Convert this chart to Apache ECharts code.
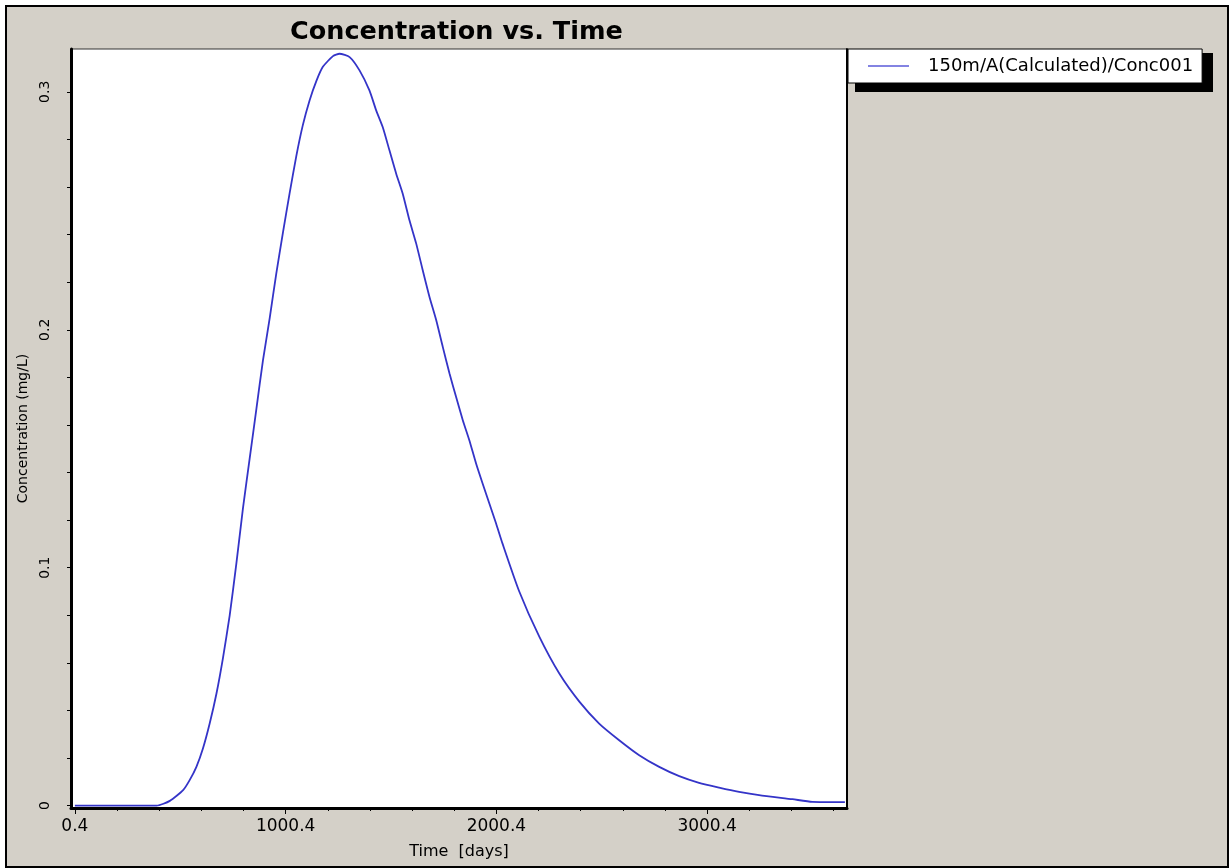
<!DOCTYPE html>
<html>
<head>
<meta charset="utf-8">
<script src="https://cdn.jsdelivr.net/npm/echarts@6/dist/echarts.min.js"></script>
<style>
  html, body { margin: 0; padding: 0; background: #ffffff; }
  #wrap { position: relative; width: 1231px; height: 868px; }
  #frame { position: absolute; left: 5px; top: 5px; width: 1220px; height: 859px;
           border: 2px solid #000; background: #D4D0C8; }
  #chart { position: absolute; left: 0; top: 0; width: 1231px; height: 868px; }
</style>
</head>
<body>
<div id="wrap"><div id="frame"></div><div id="chart"></div></div>
<script>
// Time in days
const timeDays = [0.4, 200, 389, 451, 514, 545, 577, 608, 640, 672, 703, 735, 767, 798, 830, 862,
  893, 925, 956, 988, 1019, 1051, 1082, 1114, 1146, 1177, 1225, 1256, 1304, 1351, 1398, 1430,
  1461, 1493, 1525, 1556, 1588, 1620, 1651, 1683, 1715, 1746, 1778, 1809, 1841, 1872, 1904,
  1935, 1967, 1999, 2030, 2109, 2204, 2299, 2394, 2488, 2583, 2678, 2773, 2868, 2962, 3057,
  3152, 3247, 3405, 3499, 3654];
// Concentration in mg/L
const concentration = [0, 0, 0, 0.0020, 0.0065, 0.0107, 0.0163, 0.0240, 0.0345, 0.0470, 0.0620,
  0.0800, 0.1020, 0.1250, 0.1460, 0.1670, 0.1872, 0.2050, 0.2236, 0.2410, 0.2572, 0.2730,
  0.2860, 0.2964, 0.3045, 0.3105, 0.3150, 0.3160, 0.3146, 0.3090, 0.3006, 0.2922, 0.2852,
  0.2754, 0.2656, 0.2572, 0.2460, 0.2362, 0.2250, 0.2138, 0.2040, 0.1928, 0.1816, 0.1718,
  0.1620, 0.1536, 0.1438, 0.1354, 0.1270, 0.1186, 0.1100, 0.0900, 0.0710, 0.0555, 0.0437,
  0.0345, 0.0275, 0.0212, 0.0163, 0.0124, 0.0096, 0.0076, 0.0058, 0.0044, 0.0027, 0.0016, 0.0015];

const seriesName = '150m/A(Calculated)/Conc001';
const xMajorTicks = [0.4, 1000.4, 2000.4, 3000.4];
const xMinorTicks = [0.4, 200.4, 400.4, 600.4, 800.4, 1000.4, 1200.4, 1400.4, 1600.4, 1800.4,
  2000.4, 2200.4, 2400.4, 2600.4, 2800.4, 3000.4, 3200.4, 3400.4, 3600.4];
const yMajorTicks = [0, 0.1, 0.2, 0.3];
const yMinorTicks = [0, 0.02, 0.04, 0.06, 0.08, 0.1, 0.12, 0.14, 0.16, 0.18, 0.2, 0.22, 0.24,
  0.26, 0.28, 0.3];

const FONT = 'DejaVu Sans';
const LINE_COLOR = '#3434c8';
const chart = echarts.init(document.getElementById('chart'), null, { renderer: 'canvas' });
const xMin = -18, xMax = 3664, yMin = -0.001, yMax = 0.318;

chart.setOption({
  backgroundColor: 'transparent',
  animation: false,
  title: {
    text: 'Concentration vs. Time',
    left: 285, top: 14,
    textStyle: { fontFamily: FONT, fontWeight: 'bold', fontSize: 25.5, color: '#000' }
  },
  legend: {
    left: 848, top: 49,
    padding: [8, 9, 8, 20],
    itemWidth: 41, itemHeight: 1.5,
    backgroundColor: '#fff', borderColor: '#000', borderWidth: 1,
    textStyle: { fontFamily: FONT, fontSize: 18, color: '#000', padding: [0, 0, 0, 14] },
    data: [{ name: seriesName, icon: 'rect', itemStyle: { color: '#5a5ad8' } }]
  },
  graphic: [{
    type: 'rect', z: 1,
    shape: { x: 855, y: 53, width: 358, height: 39 },
    style: { fill: '#000' }
  }],
  grid: {
    left: 71, right: 384, top: 49, bottom: 60,
    show: true, backgroundColor: '#fff', borderColor: '#333', borderWidth: 1
  },
  xAxis: [{
    type: 'value', min: xMin, max: xMax,
    name: 'Time  [days]', nameLocation: 'middle', nameGap: 36,
    nameTextStyle: { fontFamily: FONT, fontSize: 16, color: '#000' },
    axisLine: { show: true, onZero: false, lineStyle: { color: '#000', width: 3 } },
    axisTick: { show: true, length: 6, customValues: xMajorTicks, lineStyle: { color: '#000', width: 1 } },
    axisLabel: { show: true, customValues: xMajorTicks, margin: 10,
      fontFamily: FONT, fontSize: 17, color: '#000',
      formatter: v => Number(v).toFixed(1) },
    splitLine: { show: false }
  }, {
    type: 'value', min: xMin, max: xMax, position: 'bottom',
    axisLine: { show: false, onZero: false },
    axisTick: { show: true, length: 3, customValues: xMinorTicks, lineStyle: { color: '#000', width: 1 } },
    axisLabel: { show: false },
    splitLine: { show: false }
  }],
  yAxis: [{
    type: 'value', min: yMin, max: yMax,
    name: 'Concentration (mg/L)', nameLocation: 'middle', nameGap: 39, nameRotate: 90,
    nameTextStyle: { fontFamily: FONT, fontSize: 14, color: '#000' },
    axisLine: { show: true, onZero: false, lineStyle: { color: '#000', width: 3 } },
    axisTick: { show: true, length: 4, customValues: yMinorTicks, lineStyle: { color: '#000', width: 1 } },
    axisLabel: { show: true, customValues: yMajorTicks, rotate: 90, margin: 19,
      fontFamily: FONT, fontSize: 14, color: '#000',
      formatter: v => String(Number(Number(v).toFixed(2))) },
    splitLine: { show: false }
  }, {
    type: 'value', min: yMin, max: yMax, position: 'right',
    axisLine: { show: true, onZero: false, lineStyle: { color: '#000', width: 2 } },
    axisTick: { show: false }, axisLabel: { show: false }, splitLine: { show: false }
  }],
  series: [{
    name: seriesName,
    type: 'line',
    xAxisIndex: 0, yAxisIndex: 0,
    symbol: 'none', showSymbol: false,
    smooth: 0.2,
    lineStyle: { color: LINE_COLOR, width: 1.8 },
    itemStyle: { color: LINE_COLOR },
    data: timeDays.map((t, i) => [t, concentration[i]])
  }]
});
</script>
</body>
</html>
